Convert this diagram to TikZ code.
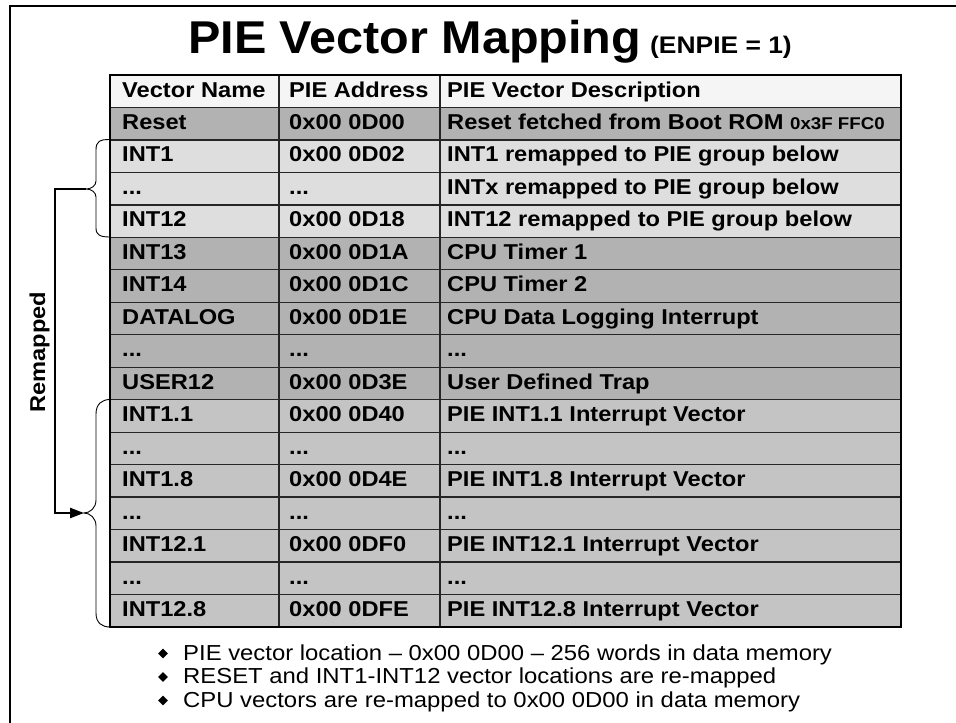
\documentclass[tikz,border=0pt]{standalone}
\usepackage{fontspec}
\setmainfont{Liberation Sans}[FakeStretch=1.1]
\newfontfamily\headfont{Liberation Sans}[FakeStretch=1.055]
\usetikzlibrary{arrows.meta,shapes.geometric}

\definecolor{hdrfill}{gray}{0.96}
\definecolor{darkfill}{gray}{0.70}
\definecolor{lightfill}{gray}{0.87}
\definecolor{midfill}{gray}{0.77}
\definecolor{gridline}{gray}{0.15}

\tikzset{
  cell/.style={anchor=base west, inner sep=0pt, font=\fontsize{21.5}{24}\selectfont\bfseries},
  bullettext/.style={anchor=base west, inner sep=0pt, font=\fontsize{21.7}{24}\selectfont},
  bulletmark/.style={diamond, fill=black, inner sep=0pt, minimum width=10pt, minimum height=10pt},
  brace/.style={line width=0.9pt, black},
  conn/.style={line width=2.4pt, -{Triangle[length=14pt,width=10pt]}},
  frame/.style={line width=2pt},
  grid/.style={gridline, line width=1.3pt},
}

% one table row: index, vector name, address, description, fill colour
\newcommand\tabrow[5]{%
  \fill[#5] (110,{75+32.47*#1}) rectangle (901,{75+32.47*(#1+1)});
  \node[cell] (n#1) at (122,{75+32.47*#1+22}) {#2};
  \node[cell] (a#1) at (289,{75+32.47*#1+22}) {#3};
  \node[cell] (d#1) at (447,{75+32.47*#1+22}) {#4};
}

\begin{document}
\begin{tikzpicture}[x=1pt,y=-1pt]
\useasboundingbox (0,0) rectangle (956,723);

% outer frame
\draw[frame] (10,740) -- (10,6) -- (970,6);

% title
\node[anchor=base west, inner sep=0pt, font=\headfont\fontsize{46}{50}\selectfont\bfseries] (title) at (188,53) {PIE Vector Mapping};
\node[anchor=base west, inner sep=0pt, font=\fontsize{24}{26}\selectfont\bfseries] (enpie) at (650,53) {(ENPIE = 1)};

% table body
\tabrow{0}{Vector Name}{PIE Address}{PIE Vector Description}{hdrfill}
\tabrow{1}{Reset}{0x00 0D00}{Reset fetched from Boot ROM {\fontsize{17}{18}\selectfont 0x3F FFC0}}{darkfill}
\tabrow{2}{INT1}{0x00 0D02}{INT1 remapped to PIE group below}{lightfill}
\tabrow{3}{...}{...}{INTx remapped to PIE group below}{lightfill}
\tabrow{4}{INT12}{0x00 0D18}{INT12 remapped to PIE group below}{lightfill}
\tabrow{5}{INT13}{0x00 0D1A}{CPU Timer 1}{darkfill}
\tabrow{6}{INT14}{0x00 0D1C}{CPU Timer 2}{darkfill}
\tabrow{7}{DATALOG}{0x00 0D1E}{CPU Data Logging Interrupt}{darkfill}
\tabrow{8}{...}{...}{...}{darkfill}
\tabrow{9}{USER12}{0x00 0D3E}{User Defined Trap}{darkfill}
\tabrow{10}{INT1.1}{0x00 0D40}{PIE INT1.1 Interrupt Vector}{midfill}
\tabrow{11}{...}{...}{...}{midfill}
\tabrow{12}{INT1.8}{0x00 0D4E}{PIE INT1.8 Interrupt Vector}{midfill}
\tabrow{13}{...}{...}{...}{midfill}
\tabrow{14}{INT12.1}{0x00 0DF0}{PIE INT12.1 Interrupt Vector}{midfill}
\tabrow{15}{...}{...}{...}{midfill}
\tabrow{16}{INT12.8}{0x00 0DFE}{PIE INT12.8 Interrupt Vector}{midfill}

% grid lines
\foreach \i in {1,...,16}
  \draw[grid] (110,{75+32.47*\i}) -- (901,{75+32.47*\i});
\draw[grid] (279,75) -- (279,627);
\draw[grid] (440,75) -- (440,627);
\draw[line width=2.5pt] (110,75) rectangle (901,627);

% braces on the left of the table
\draw[brace] (110,139.5) .. controls (100,139.5) and (96,141) .. (96,150)
  -- (96,181) .. controls (96,186) and (91,189) .. (86,189)
  .. controls (91,189) and (96,192) .. (96,197)
  -- (96,228) .. controls (96,235) and (100,237) .. (110,237);
\draw[brace] (110,399.5) .. controls (102,399.5) and (96,404) .. (96,414)
  -- (96,500) .. controls (96,508) and (90,513) .. (84,513)
  .. controls (90,513) and (96,518) .. (96,526)
  -- (96,613) .. controls (96,623) and (102,627) .. (110,627);

\coordinate (tipA) at (86,189);
\coordinate (tipB) at (84,513);
\draw[conn] (tipA) -- ++(-31,0) |- (tipB);

\node[rotate=90, anchor=base, inner sep=0pt, font=\fontsize{21.5}{24}\selectfont\bfseries] (remap) at (45,352) {Remapped};

% notes below the table
\node[bulletmark] (b1) at (163,653.5) {};
\node[bullettext] (t1) at (183,660) {PIE vector location – 0x00 0D00 – 256 words in data memory};
\node[bulletmark] (b2) at (163,677) {};
\node[bullettext] (t2) at (183,683.5) {RESET and INT1-INT12 vector locations are re-mapped};
\node[bulletmark] (b3) at (163,700.5) {};
\node[bullettext] (t3) at (183,707) {CPU vectors are re-mapped to 0x00 0D00 in data memory};
\end{tikzpicture}
\end{document}
